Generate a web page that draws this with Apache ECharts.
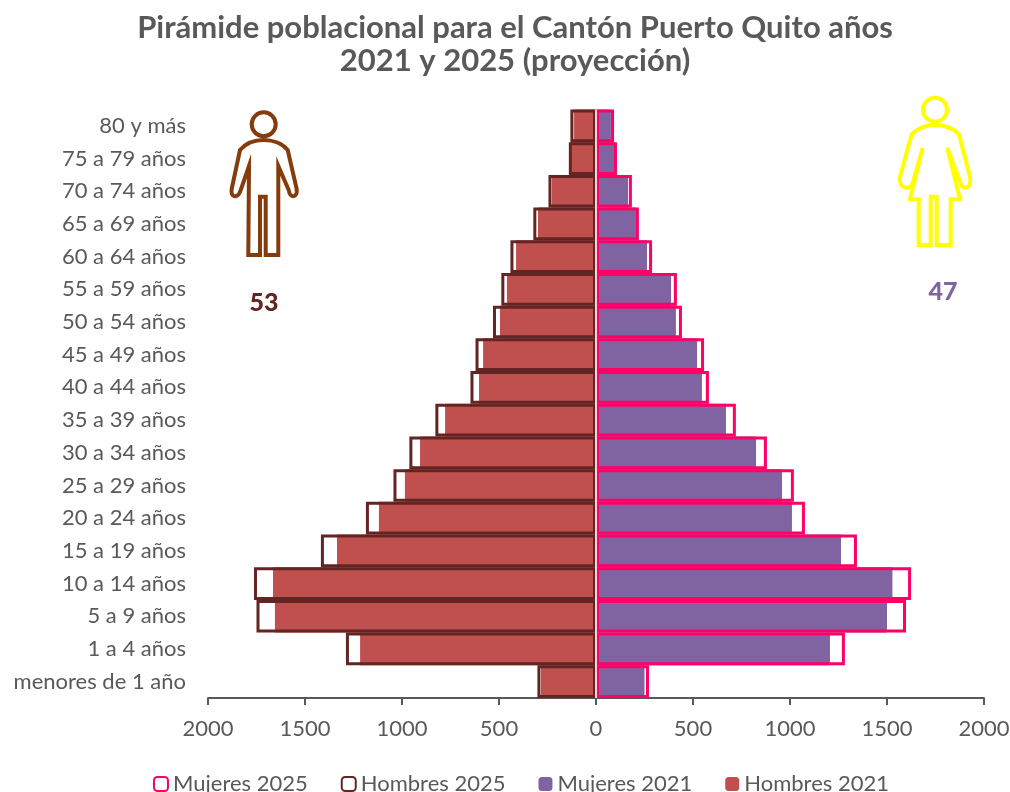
<!DOCTYPE html>
<html>
<head>
<meta charset="utf-8">
<title>Pirámide poblacional Puerto Quito</title>
<script src="https://cdn.jsdelivr.net/npm/echarts@6/dist/echarts.min.js"></script>
<style>
  html, body { margin: 0; padding: 0; background: #fff; }
  #chart { width: 1010px; height: 792px; overflow: hidden; }
</style>
</head>
<body>
<div id="chart"></div>
<script>
// de arriba hacia abajo, igual que en la figura
var categories = ['80 y más', '75 a 79 años', '70 a 74 años', '65 a 69 años', '60 a 64 años', '55 a 59 años',
  '50 a 54 años', '45 a 49 años', '40 a 44 años', '35 a 39 años', '30 a 34 años', '25 a 29 años',
  '20 a 24 años', '15 a 19 años', '10 a 14 años', '5 a 9 años', '1 a 4 años', 'menores de 1 año'];

var hombres2025 = [132, 140, 245, 323, 441, 488, 531, 621, 647, 828, 962, 1044, 1186, 1418, 1763, 1750, 1289, 302];
var mujeres2025 = [93, 108, 185, 221, 289, 417, 443, 557, 582, 721, 881, 1020, 1077, 1345, 1624, 1598, 1283, 273];
var hombres2021 = [113, 129, 227, 299, 412, 459, 495, 582, 603, 778, 907, 985, 1119, 1335, 1665, 1655, 1216, 284];
var mujeres2021 = [77, 93, 165, 206, 263, 387, 412, 521, 546, 670, 825, 959, 1010, 1263, 1528, 1500, 1206, 250];

var xTicks = { min: -2000, max: 2000, interval: 500 };
var FONT = 'Lato';
var GRIS = '#595959';

function negativo(list) {
  return list.map(function (v) { return -v; });
}

// siluetas de hombre y mujer (adorno, no son datos)
echarts.graphic.registerShape('siluetaHombre', echarts.graphic.extendPath(
  'M249 166 L240.7 190 C238 199 230 198 231.7 189 L240 150 C246 143 255 140 263.7 140 ' +
  'C272 140 282 143 287.7 150 L296.7 189 C298 198 290 199 288.7 190 L278.3 166 L278.3 255 ' +
  'L265.7 255 L265.7 196.7 L260 196.7 L260 255 L248.3 255 Z', {}));
echarts.graphic.registerShape('siluetaMujer', echarts.graphic.extendPath(
  'M911.7 134.3 C918 128 926 125 935 125 C944 125 953 128 959 134.3 L970 176.7 ' +
  'C972 190 962 190 960.7 183.3 L947.3 147.7 L960 199.3 L950.7 199.3 L950.7 245 L936.7 245 ' +
  'L936.7 196.7 L930.7 196.7 L930.7 245 L918.7 245 L918.7 199.3 L910 199.3 L922.7 147.7 ' +
  'L912.7 183.3 C911 190 898 190 900 176.7 Z', {}));

var chart = echarts.init(document.getElementById('chart'));

var option = {
  animation: false,
  textStyle: { fontFamily: FONT },
  title: {
    text: 'Pirámide poblacional para el Cantón Puerto Quito años\n2021 y 2025 (proyección)',
    left: 510,
    top: 6,
    textAlign: 'center',
    textStyle: { fontFamily: FONT, fontSize: 31, fontWeight: 'bold', color: GRIS, lineHeight: 33 }
  },
  legend: {
    left: 148,
    top: 768,
    itemWidth: 14,
    itemHeight: 14,
    itemGap: 33,
    textStyle: { fontFamily: FONT, fontSize: 22, color: GRIS },
    data: ['Mujeres 2025', 'Hombres 2025', 'Mujeres 2021', 'Hombres 2021']
  },
  grid: { left: 208, right: 26, top: 109.5, height: 588.5, outerBoundsMode: 'none' },
  xAxis: {
    type: 'value',
    min: xTicks.min,
    max: xTicks.max,
    interval: xTicks.interval,
    splitLine: { show: false },
    axisLine: { show: true, lineStyle: { color: GRIS, width: 2 } },
    axisTick: { show: true, length: 7, lineStyle: { color: GRIS, width: 2 } },
    axisLabel: {
      color: GRIS, fontSize: 22, margin: 20, fontFamily: FONT,
      formatter: function (v) { return String(Math.abs(v)); }
    }
  },
  yAxis: {
    type: 'category',
    inverse: true,
    data: categories,
    axisLine: { show: false, onZero: false },
    axisTick: { show: false },
    axisLabel: { color: GRIS, fontSize: 22, margin: 22, fontFamily: FONT }
  },
  series: [
    {
      name: 'Mujeres 2025', type: 'bar', data: mujeres2025, z: 4,
      barWidth: '100%', barGap: '-100%',
      itemStyle: { color: 'rgba(255,255,255,0)', borderColor: '#ff0066', borderWidth: 3 }
    },
    {
      name: 'Hombres 2025', type: 'bar', data: negativo(hombres2025), z: 4,
      barWidth: '100%', barGap: '-100%',
      itemStyle: { color: 'rgba(255,255,255,0)', borderColor: '#632523', borderWidth: 3 }
    },
    {
      name: 'Mujeres 2021', type: 'bar', data: mujeres2021, z: 2,
      barWidth: '100%', barGap: '-100%',
      itemStyle: { color: '#8064a2' }
    },
    {
      name: 'Hombres 2021', type: 'bar', data: negativo(hombres2021), z: 2,
      barWidth: '100%', barGap: '-100%',
      itemStyle: { color: '#c0504d' },
      // linea clara del centro
      markLine: {
        silent: true,
        symbol: 'none',
        z: 6,
        label: { show: false },
        lineStyle: { color: '#f0d3dc', width: 2, type: 'solid' },
        data: [{ xAxis: 0 }]
      }
    }
  ],
  graphic: [
    {
      type: 'circle', z: 10, silent: true,
      shape: { cx: 263.7, cy: 124.3, r: 12 },
      style: { fill: 'none', stroke: '#843c0c', lineWidth: 4 }
    },
    {
      type: 'siluetaHombre', z: 10, silent: true,
      style: { fill: 'none', stroke: '#843c0c', lineWidth: 4, lineJoin: 'miter' }
    },
    {
      type: 'circle', z: 10, silent: true,
      shape: { cx: 935, cy: 109.7, r: 12 },
      style: { fill: 'none', stroke: '#ffff00', lineWidth: 4 }
    },
    {
      type: 'siluetaMujer', z: 10, silent: true,
      style: { fill: 'none', stroke: '#ffff00', lineWidth: 4, lineJoin: 'miter' }
    },
    {
      type: 'text', z: 10, silent: true, x: 264, y: 303,
      style: { text: '53', fill: '#632523', font: '900 25px Lato', align: 'center', verticalAlign: 'middle' }
    },
    {
      type: 'text', z: 10, silent: true, x: 943, y: 292,
      style: { text: '47', fill: '#8064a2', font: '900 25px Lato', align: 'center', verticalAlign: 'middle' }
    }
  ]
};

chart.setOption(option);
</script>
</body>
</html>
